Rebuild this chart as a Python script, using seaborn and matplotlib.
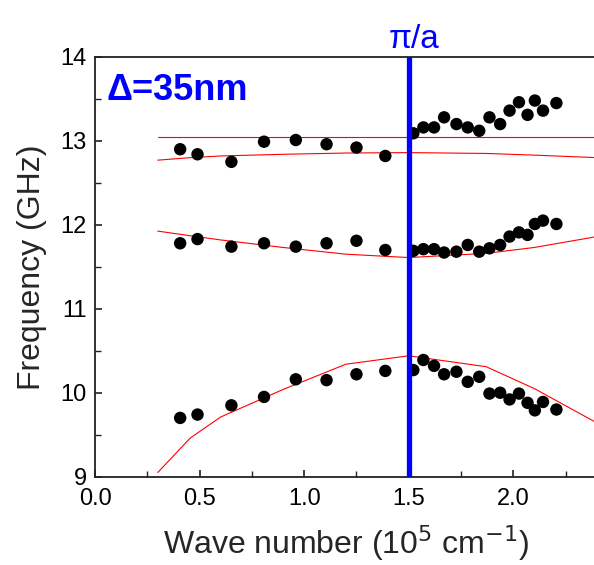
import matplotlib
matplotlib.use("Agg")
import matplotlib.pyplot as plt
import numpy as np
import pandas as pd
import seaborn as sns
from matplotlib.ticker import MultipleLocator

# measured points (same k values for all three bands)
k_meas = [0.407, 0.49, 0.652, 0.808, 0.96, 1.107, 1.25, 1.388, 1.522, 1.570,
          1.621, 1.669, 1.728, 1.782, 1.837, 1.886, 1.937, 1.982, 2.027, 2.068,
          2.103, 2.142, 2.206]
f_top = [12.90, 12.84, 12.75, 12.99, 13.01, 12.96, 12.92, 12.82, 13.09, 13.16,
         13.16, 13.28, 13.20, 13.16, 13.12, 13.28, 13.20, 13.36, 13.46, 13.31,
         13.48, 13.36, 13.45]
f_mid = [11.78, 11.83, 11.74, 11.78, 11.74, 11.78, 11.81, 11.70, 11.69, 11.71,
         11.71, 11.67, 11.68, 11.76, 11.68, 11.72, 11.76, 11.86, 11.91, 11.88,
         12.01, 12.05, 12.01]
f_bot = [9.70, 9.74, 9.85, 9.95, 10.16, 10.15, 10.22, 10.26, 10.27, 10.39,
         10.32, 10.22, 10.25, 10.13, 10.19, 9.99, 10.00, 9.92, 9.99, 9.88,
         9.79, 9.89, 9.80]

# calculated bands
k_calc = [0.30, 0.455, 0.60, 0.90, 1.20, 1.50, 1.87, 2.10, 2.40]
calc_1 = [9.05, 9.46, 9.71, 10.04, 10.34, 10.44, 10.31, 10.05, 9.64]
calc_2 = [11.925, 11.87, 11.82, 11.73, 11.65, 11.61, 11.66, 11.73, 11.86]
calc_3 = [12.77, 12.80, 12.82, 12.84, 12.855, 12.86, 12.85, 12.83, 12.80]
calc_4 = [13.05, 13.05, 13.05, 13.05, 13.05, 13.05, 13.05, 13.05, 13.05]

k_edge = 1.5

sns.set_style("ticks")
plt.rcParams["font.family"] = ["Liberation Sans", "DejaVu Sans"]

fig = plt.figure(figsize=(5.94, 5.65), dpi=100)
ax = fig.add_axes([0.16, 0.1563, 0.845, 0.743])

meas = pd.DataFrame({
    "k": k_meas * 3,
    "f": f_top + f_mid + f_bot,
    "band": ["top"] * len(k_meas) + ["mid"] * len(k_meas) + ["bot"] * len(k_meas),
})
calc = pd.DataFrame({
    "k": k_calc * 4,
    "f": calc_1 + calc_2 + calc_3 + calc_4,
    "band": ["1"] * 9 + ["2"] * 9 + ["3"] * 9 + ["4"] * 9,
})

sns.lineplot(data=calc, x="k", y="f", units="band", estimator=None,
             color="red", linewidth=0.8, ax=ax, zorder=2)
sns.scatterplot(data=meas, x="k", y="f", color="black", s=80,
                edgecolor="none", ax=ax, zorder=3)
ax.axvline(k_edge, color="#0000ff", linewidth=3.8, zorder=4)

ax.set_xlim(0, 2.4)
ax.set_ylim(9, 14)
ax.xaxis.set_minor_locator(MultipleLocator(0.25))
ax.yaxis.set_minor_locator(MultipleLocator(0.5))
ax.set_xticks([0.0, 0.5, 1.0, 1.5, 2.0])
ax.set_xticklabels(["0.0", "0.5", "1.0", "1.5", "2.0"], fontsize=17)
ax.set_yticks([9, 10, 11, 12, 13, 14])
ax.set_yticklabels(["9", "10", "11", "12", "13", "14"], fontsize=17)
ax.tick_params(which="major", direction="in", length=5, width=1.2,
               colors="#222222", labelcolor="black")
ax.tick_params(axis="x", which="major", pad=8)
ax.tick_params(axis="y", which="major", pad=6)
ax.tick_params(which="minor", direction="in", length=4, width=1.0,
               colors="#222222")
for sp in ax.spines.values():
    sp.set_linewidth(1.3)
    sp.set_color("#222222")

ax.set_xlabel("Wave number (10$^{5}$ cm$^{-1}$)", fontsize=23, labelpad=10)
ax.set_ylabel("Frequency (GHz)", fontsize=23, labelpad=10)

ax.text(0.057, 13.49, "\u0394=35nm", color="#0000ff", fontsize=26,
        fontweight="bold", ha="left", va="baseline")
ax.text(1.524, 14.11, "\u03c0/a", color="#0000ff", fontsize=24,
        ha="center", va="baseline", clip_on=False)

fig.savefig("out.png", dpi=100)
